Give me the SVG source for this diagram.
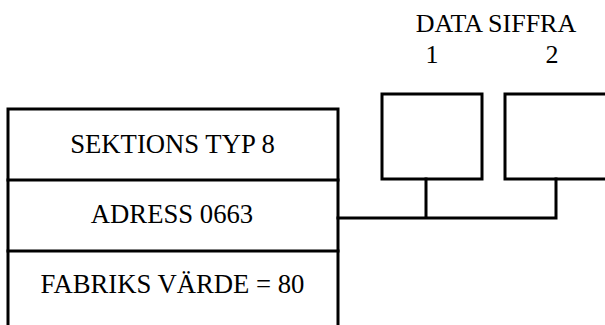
<svg xmlns="http://www.w3.org/2000/svg" width="605" height="325" viewBox="0 0 605 325">
<style>
.ln{fill:none;stroke:#000;stroke-width:3;stroke-linecap:square}
.t{font-family:"Liberation Serif","Times New Roman",serif;font-size:26.7px;fill:#000;text-anchor:middle}
.s{font-size:26px}
</style>
<rect width="605" height="325" fill="#fff"/>
<g id="sektion">
<path class="ln" d="M8 325V109H338V325"/>
<text class="t" x="172.5" y="153">SEKTIONS TYP 8</text>
</g>
<g id="adress">
<path class="ln" d="M8 180H338"/>
<text class="t" x="172" y="223">ADRESS 0663</text>
</g>
<g id="fabriks">
<path class="ln" d="M8 251H338"/>
<text class="t" x="172.5" y="293">FABRIKS VÄRDE = 80</text>
</g>
<g id="datasiffra">
<text class="t s" x="496" y="32">DATA SIFFRA</text>
</g>
<g id="siffra1">
<text class="t s" x="432" y="63">1</text>
<rect class="ln" x="382" y="94" width="100" height="85"/>
</g>
<g id="siffra2">
<text class="t s" x="552" y="63">2</text>
<path class="ln" d="M606 94H505V179H606"/>
</g>
<g id="connectors">
<path class="ln" d="M338 218H556M426 179V218M556 179V218"/>
</g>
</svg>
